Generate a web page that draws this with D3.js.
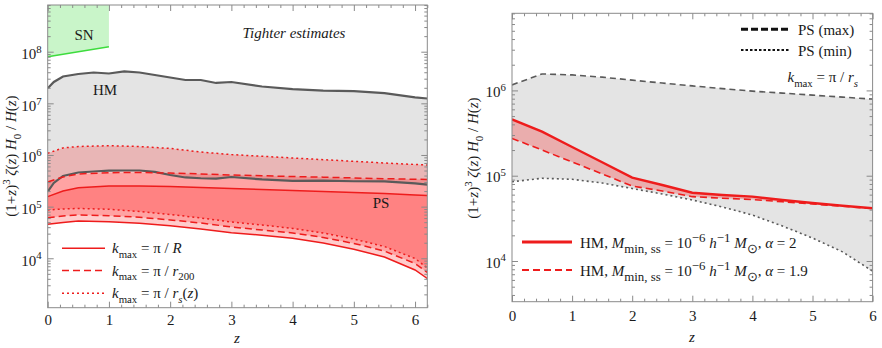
<!DOCTYPE html>
<html><head><meta charset="utf-8">
<script src="https://cdn.jsdelivr.net/npm/d3@7"></script>
<style>
body{margin:0;background:#fff}
svg{display:block}
text{font-family:"Liberation Serif","Times New Roman",serif;fill:#1a1a1a}
</style>
</head><body>
<svg id="c" width="882" height="348"></svg>
<script>
// ---------- LEFT PANEL DATA ----------
const snZ = [0, 1];
const snLower = [8.0e7, 1.25e8];

const hmZ = [0,0.1,0.25,0.5,0.75,1,1.25,1.5,1.75,2,2.25,2.5,2.75,3,3.5,4,4.5,5,5.5,6,6.2];
const hmUpper = [1.95e7,2.59e7,3.31e7,3.70e7,3.95e7,3.78e7,4.14e7,3.95e7,3.54e7,3.16e7,2.83e7,2.83e7,2.48e7,2.59e7,2.12e7,1.89e7,1.76e7,1.73e7,1.58e7,1.30e7,1.24e7];
const hmLower = [1.95e5,2.87e5,3.92e5,4.58e5,4.79e5,4.97e5,5.01e5,5.01e5,4.69e5,4.10e5,3.67e5,3.54e5,3.48e5,3.75e5,3.36e5,3.14e5,3.18e5,3.10e5,3.08e5,2.81e5,2.66e5];

const kZ = [0,0.25,0.5,1,1.5,2,2.5,3,3.5,4,4.5,5,5.5,6,6.2];
const solidUp = [1.56e5,2.01e5,2.33e5,2.51e5,2.51e5,2.45e5,2.35e5,2.25e5,2.15e5,2.06e5,1.96e5,1.88e5,1.80e5,1.68e5,1.64e5];
const solidLo = [4.55e4,4.93e4,5.27e4,5.12e4,4.76e4,4.28e4,3.69e4,3.13e4,2.79e4,2.44e4,1.98e4,1.49e4,1.06e4,5.93e3,4.06e3];
const dashUp = [3.00e5,3.75e5,4.29e5,4.54e5,4.58e5,4.48e5,4.29e5,4.10e5,3.96e5,3.83e5,3.72e5,3.59e5,3.48e5,3.39e5,3.36e5];
const dashLo = [6.11e4,6.59e4,6.89e4,6.68e4,6.22e4,5.52e4,4.82e4,4.04e4,3.53e4,3.09e4,2.53e4,1.94e4,1.38e4,7.93e3,5.31e3];
const dotUp = [1.08e6,1.37e6,1.46e6,1.51e6,1.46e6,1.34e6,1.14e6,1.02e6,9.44e5,8.75e5,8.11e5,7.55e5,7.00e5,6.55e5,6.40e5];
const dotLo = [8.61e4,9.0e4,9.2e4,8.89e4,8.05e4,7.05e4,6.03e4,5.05e4,4.42e4,3.78e4,3.09e4,2.36e4,1.69e4,9.9e3,6.49e3];

// ---------- RIGHT PANEL DATA ----------
const psZ = [0,0.5,1,1.5,2,2.5,3,3.5,4,4.5,5,5.5,6];
const psMax = [1.16e6,1.56e6,1.52e6,1.43e6,1.32e6,1.22e6,1.13e6,1.05e6,9.8e5,9.3e5,8.8e5,8.35e5,7.9e5];
const psMin = [8.5e4,9.33e4,9.08e4,8.21e4,7.08e4,6.1e4,5.19e4,4.3e4,3.46e4,2.57e4,1.86e4,1.28e4,7.6e3];
const hmAlpha2 = [4.58e5,3.28e5,2.17e5,1.44e5,9.5e4,7.78e4,6.32e4,5.95e4,5.68e4,5.2e4,4.79e4,4.45e4,4.15e4];
const hmAlpha19 = [2.74e5,2.0e5,1.45e5,1.05e5,7.57e4,6.62e4,5.68e4,5.45e4,5.26e4,4.95e4,4.66e4,4.38e4,4.12e4];

// ---------- TICK LABELS ----------
const leftXTicks = [0,1,2,3,4,5,6];
const leftYDecades = [4,5,6,7,8];
const rightXTicks = [0,1,2,3,4,5,6];
const rightYDecades = [4,5,6];

const RED = "#ee1c1c", GREY = "#5a5a5a", FRAME = "#8a8a8a";
const svg = d3.select("#c");

function rich(t, parts, fs, scale){
  const sc = scale || 0.72;
  let cur = 0;
  parts.forEach(([s, st]) => {
    const toks = (st||"").split(" ");
    let target = 0, size = fs;
    if (toks.includes("sub")) { target = fs*0.32; size = fs*sc; }
    if (toks.includes("sup")) { target = -fs*0.42; size = fs*sc; }
    t.append("tspan").attr("dy", target-cur).attr("font-size", size)
      .attr("font-style", toks.includes("i") ? "italic" : "normal").text(s);
    cur = target;
  });
  return t;
}

function panel(cfg){
  const x = d3.scaleLinear().domain([0, cfg.zmax]).range([cfg.x0, cfg.x1]);
  const y = d3.scaleLog().domain([cfg.ymin, cfg.ymax]).range([cfg.y1, cfg.y0]);
  const g = svg.append("g");
  const cid = "clip"+cfg.id;
  g.append("clipPath").attr("id", cid).append("rect")
    .attr("x", cfg.x0).attr("y", cfg.y0).attr("width", cfg.x1-cfg.x0).attr("height", cfg.y1-cfg.y0);
  const plot = g.append("g").attr("clip-path", `url(#${cid})`);
  return {x, y, g, plot, cfg};
}

function axes(P, xt, decs, xpad, ylabDy){
  const {x, y, g, cfg} = P;
  const minorX = d3.range(0, cfg.zmax+1e-9, 0.2).filter(v => Math.abs(v-Math.round(v))>1e-6);
  const minorY = [];
  const lo = Math.floor(Math.log10(cfg.ymin)), hi = Math.ceil(Math.log10(cfg.ymax));
  for (let d=lo; d<=hi; d++) for (let m=2; m<=9; m++){ const v=m*Math.pow(10,d); if (v>cfg.ymin && v<cfg.ymax) minorY.push(v); }
  const majY = decs.map(d => Math.pow(10,d));
  const mk = (sel, ax) => { sel.call(ax); sel.attr("font-family",null); sel.select(".domain").remove(); sel.selectAll(".tick line").attr("stroke", FRAME); };
  mk(g.append("g").attr("transform",`translate(0,${cfg.y1})`),
     d3.axisBottom(x).tickValues(xt).tickSizeInner(-6).tickSizeOuter(0).tickPadding(xpad).tickFormat(d3.format("d")));
  mk(g.append("g").attr("transform",`translate(0,${cfg.y1})`),
     d3.axisBottom(x).tickValues(minorX).tickSizeInner(-3).tickSizeOuter(0).tickFormat(""));
  mk(g.append("g").attr("transform",`translate(0,${cfg.y0})`),
     d3.axisTop(x).tickValues(xt).tickSizeInner(-6).tickSizeOuter(0).tickFormat(""));
  mk(g.append("g").attr("transform",`translate(0,${cfg.y0})`),
     d3.axisTop(x).tickValues(minorX).tickSizeInner(-3).tickSizeOuter(0).tickFormat(""));
  mk(g.append("g").attr("transform",`translate(${cfg.x0},0)`),
     d3.axisLeft(y).tickValues(majY).tickSizeInner(-6).tickSizeOuter(0).tickFormat(""));
  mk(g.append("g").attr("transform",`translate(${cfg.x0},0)`),
     d3.axisLeft(y).tickValues(minorY).tickSizeInner(-3).tickSizeOuter(0).tickFormat(""));
  mk(g.append("g").attr("transform",`translate(${cfg.x1},0)`),
     d3.axisRight(y).tickValues(majY).tickSizeInner(-6).tickSizeOuter(0).tickFormat(""));
  mk(g.append("g").attr("transform",`translate(${cfg.x1},0)`),
     d3.axisRight(y).tickValues(minorY).tickSizeInner(-3).tickSizeOuter(0).tickFormat(""));
  g.selectAll(".tick text").attr("font-size",15).attr("fill","#1a1a1a");
  g.append("rect").attr("x",cfg.x0).attr("y",cfg.y0).attr("width",cfg.x1-cfg.x0).attr("height",cfg.y1-cfg.y0)
    .attr("fill","none").attr("stroke",FRAME).attr("stroke-width",1);
  decs.forEach(d => {
    const t = g.append("text").attr("x", cfg.x0-6).attr("y", y(Math.pow(10,d))+ylabDy).attr("text-anchor","end").attr("font-size",15);
    rich(t, [["10",""],[String(d),"sup"]], 15);
  });
}

function area(P, zs, lo, hi){
  return d3.area().x((d,i)=>P.x(zs[i])).y0((d,i)=>P.y(lo[i])).y1((d,i)=>P.y(hi[i]))(zs);
}
function line(P, zs, vs){
  return d3.line().x((d,i)=>P.x(zs[i])).y((d,i)=>P.y(vs[i]))(zs);
}

const yTitle = [["(1+",""],["z","i"],[")",""],["3","sup"],[" ",""],["ζ","i"],["(",""],["z","i"],[") ",""],["H","i"],["0","sub"],[" / ",""],["H","i"],["(",""],["z","i"],[")",""]];

// ================= LEFT PANEL =================
const L = panel({id:"L", x0:47.7, x1:427.3, y0:5, y1:307.7, zmax:6.2, ymin:Math.pow(10,3.043), ymax:Math.pow(10,8.904)});
L.plot.append("path").attr("d", d3.area().x((d,i)=>L.x(snZ[i])).y0((d,i)=>L.y(snLower[i])).y1(L.cfg.y0)(snZ))
  .attr("fill","#c9f5c9");
L.plot.append("path").attr("d", line(L, snZ, snLower)).attr("fill","none").attr("stroke","#3ddc3d").attr("stroke-width",1.6);
L.plot.append("path").attr("d", area(L, hmZ, hmLower, hmUpper)).attr("fill","#e4e4e4");
[[dotLo,dotUp],[dashLo,dashUp],[solidLo,solidUp]].forEach(([lo,hi]) => {
  L.plot.append("path").attr("d", area(L, kZ, lo, hi)).attr("fill", "rgb(255,0,0)").attr("fill-opacity", 0.2);
});
[hmUpper, hmLower].forEach(v => L.plot.append("path").attr("d", line(L, hmZ, v))
  .attr("fill","none").attr("stroke",GREY).attr("stroke-width",2.2));
const styles = {solid:null, dash:"7,4", dot:"2,3"};
[[solidUp,"solid"],[solidLo,"solid"],[dashUp,"dash"],[dashLo,"dash"],[dotUp,"dot"],[dotLo,"dot"]].forEach(([v,s]) => {
  L.plot.append("path").attr("d", line(L, kZ, v)).attr("fill","none").attr("stroke",RED)
    .attr("stroke-width",1.5).attr("stroke-dasharray", styles[s]);
});
axes(L, leftXTicks, leftYDecades, 7, 7.5);

L.g.append("text").attr("x",84).attr("y",40).attr("text-anchor","middle").attr("font-size",15).text("SN");
L.g.append("text").attr("x",105).attr("y",95).attr("text-anchor","middle").attr("font-size",15).text("HM");
L.g.append("text").attr("x",381).attr("y",208).attr("text-anchor","middle").attr("font-size",15).text("PS");
L.g.append("text").attr("x",294).attr("y",38).attr("text-anchor","middle").attr("font-size",15).attr("font-style","italic").text("Tighter estimates");
L.g.append("text").attr("x",237).attr("y",343).attr("text-anchor","middle").attr("font-size",15).attr("font-style","italic").text("z");
rich(L.g.append("text").attr("transform","translate(16,156) rotate(-90)").attr("text-anchor","middle").attr("font-size",15), yTitle, 15);
const legL = [
  [null, [["k","i"],["max","sub"],[" = π / ",""],["R","i"]]],
  ["7,4", [["k","i"],["max","sub"],[" = π / ",""],["r","i"],["200","sub"]]],
  ["2,3", [["k","i"],["max","sub"],[" = π / ",""],["r","i"],["s","i sub"],["(",""],["z","i"],[")",""]]]
];
const legLY = [248.3, 270.5, 293.3];
legL.forEach(([dash, parts], i) => {
  L.g.append("line").attr("x1",62).attr("x2",105).attr("y1",legLY[i]).attr("y2",legLY[i])
    .attr("stroke",RED).attr("stroke-width",1.5).attr("stroke-dasharray",dash);
  rich(L.g.append("text").attr("x",112).attr("y",legLY[i]+5).attr("font-size",15), parts, 15);
});

// ================= RIGHT PANEL =================
const R = panel({id:"R", x0:512, x1:872.6, y0:13.3, y1:301.7, zmax:6, ymin:Math.pow(10,3.523), ymax:Math.pow(10,6.904)});
R.plot.append("path").attr("d", area(R, psZ, psMin, psMax)).attr("fill","#e4e4e4");
R.plot.append("path").attr("d", area(R, psZ, hmAlpha19, hmAlpha2)).attr("fill","rgb(255,0,0)").attr("fill-opacity",0.24);
R.plot.append("path").attr("d", line(R, psZ, psMax)).attr("fill","none").attr("stroke",GREY).attr("stroke-width",1.6).attr("stroke-dasharray","6,4");
R.plot.append("path").attr("d", line(R, psZ, psMin)).attr("fill","none").attr("stroke",GREY).attr("stroke-width",1.6).attr("stroke-dasharray","2,3");
R.plot.append("path").attr("d", line(R, psZ, hmAlpha2)).attr("fill","none").attr("stroke",RED).attr("stroke-width",2.4);
R.plot.append("path").attr("d", line(R, psZ, hmAlpha19)).attr("fill","none").attr("stroke",RED).attr("stroke-width",1.6).attr("stroke-dasharray","7,4");
axes(R, rightXTicks, rightYDecades, 9, 6.5);
R.g.append("text").attr("x",692).attr("y",342).attr("text-anchor","middle").attr("font-size",15).attr("font-style","italic").text("z");
rich(R.g.append("text").attr("transform","translate(478,158) rotate(-90)").attr("text-anchor","middle").attr("font-size",15), yTitle, 15);
R.g.append("line").attr("x1",741).attr("x2",789).attr("y1",29.3).attr("y2",29.3).attr("stroke","#111").attr("stroke-width",3).attr("stroke-dasharray","7,3");
R.g.append("line").attr("x1",741).attr("x2",789).attr("y1",50).attr("y2",50).attr("stroke","#111").attr("stroke-width",2).attr("stroke-dasharray","2.5,2");
R.g.append("text").attr("x",798).attr("y",34.5).attr("font-size",15).text("PS (max)");
R.g.append("text").attr("x",798).attr("y",55.5).attr("font-size",15).text("PS (min)");
rich(R.g.append("text").attr("x",858).attr("y",82).attr("text-anchor","end").attr("font-size",15),
  [["k","i"],["max","sub"],[" = π / ",""],["r","i"],["s","i sub"]], 15);
const legR = [
  [null, 2.8, "2"],
  ["7,4", 2, "1.9"]
];
const legRY = [242, 270];
legR.forEach(([dash, w, a], i) => {
  R.g.append("line").attr("x1",522).attr("x2",572).attr("y1",legRY[i]).attr("y2",legRY[i])
    .attr("stroke",RED).attr("stroke-width",w).attr("stroke-dasharray",dash);
  rich(R.g.append("text").attr("x",580).attr("y",legRY[i]+6).attr("font-size",15),
    [["HM, ",""],["M","i"],["min, ss","sub"],[" = 10",""],["−6","sup"],[" ",""],["h","i"],["−1","sup"],[" ",""],["M","i"],["⊙","sub"],[",  ",""],["α","i"],[" = "+a,""]], 15, 0.86);
});
</script>
</body></html>
